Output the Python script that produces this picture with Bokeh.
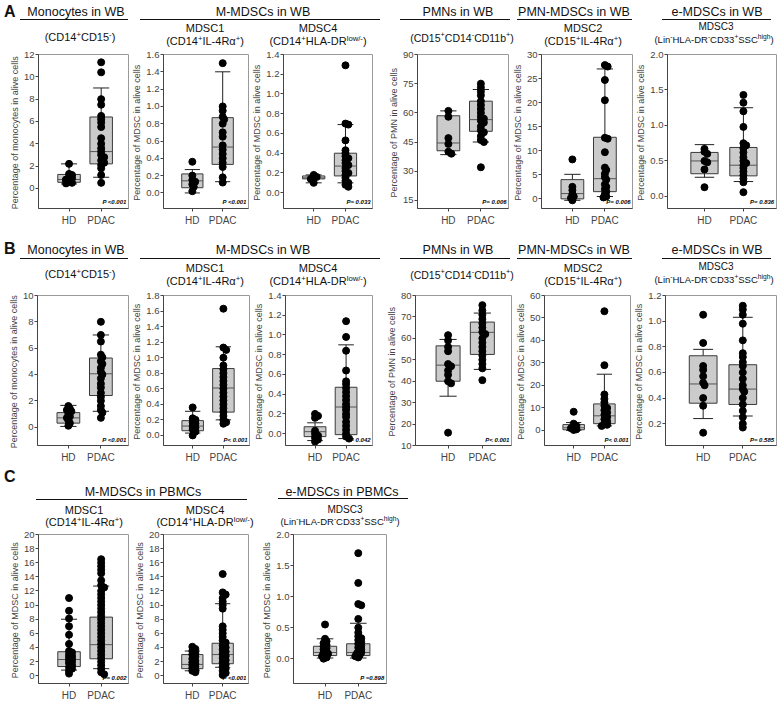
from bokeh.plotting import figure
from bokeh.layouts import row, column
from bokeh.models import Range1d, FixedTicker, Label, Div, NumeralTickFormatter
from bokeh.embed import file_html
from bokeh.resources import INLINE

groups = ["HD", "PDAC"]

# ---------------- Row A (WB, cohort 1) ----------------
a1_hd = [2.2, 1.3, 1.2, 1.0, 0.9, 0.8, 0.75, 0.6, 0.5, 0.45]
a1_pdac = [11.3, 10.4, 8.0, 7.5, 6.5, 6.2, 5.9, 5.5, 4.5, 4.0, 3.6, 3.3, 3.0, 2.8, 2.5, 2.3, 2.1, 1.8, 1.2, 0.5]
a1_box = [[0.4, 0.55, 0.8, 1.25, 2.2], [1.0, 2.2, 3.3, 6.4, 9.0]]

a2_hd = [0.36, 0.2, 0.15, 0.13, 0.1, 0.07, 0.02]
a2_pdac = [1.5, 1.0, 0.95, 0.88, 0.85, 0.8, 0.7, 0.65, 0.55, 0.5, 0.45, 0.4, 0.35, 0.3, 0.18, 0.12]
a2_box = [[0.0, 0.06, 0.14, 0.22, 0.27], [0.13, 0.33, 0.53, 0.87, 1.4]]

a3_hd = [0.18, 0.16, 0.15, 0.14, 0.1]
a3_pdac = [1.29, 0.7, 0.69, 0.53, 0.43, 0.4, 0.37, 0.35, 0.33, 0.3, 0.28, 0.25, 0.22, 0.2, 0.18, 0.15, 0.12, 0.1, 0.08, 0.06]
a3_box = [[0.1, 0.14, 0.15, 0.17, 0.18], [0.1, 0.17, 0.27, 0.4, 0.69]]

a4_hd = [61, 58, 47, 44, 40, 39]
a4_pdac = [75, 73, 71, 69, 66, 64, 62, 60, 58, 57, 56, 55, 53, 51, 50, 48, 46, 45, 32]
a4_box = [[38.5, 40.5, 44.5, 58.5, 61], [45, 50.5, 56.5, 66, 72]]

a5_hd = [8.2, 2.5, 1.8, 1.0, 0.5, 0.2, -0.3]
a5_pdac = [27.8, 27.5, 24.7, 20.5, 12.7, 12.5, 9.7, 6.5, 6.0, 5.2, 4.5, 4.0, 3.0, 2.5, 2.0, 1.5, 1.0, 0.5, 0.3]
a5_box = [[-0.3, 0.0, 1.1, 4.0, 5.1], [0.5, 1.5, 4.2, 12.8, 27.0]]

a6_hd = [0.67, 0.63, 0.6, 0.5, 0.48, 0.38, 0.13]
a6_pdac = [1.43, 1.32, 1.2, 0.98, 0.75, 0.72, 0.68, 0.62, 0.55, 0.5, 0.47, 0.44, 0.4, 0.35, 0.3, 0.25, 0.2, 0.06]
a6_box = [[0.27, 0.32, 0.5, 0.62, 0.73], [0.21, 0.29, 0.44, 0.69, 1.25]]

# ---------------- Row B (WB, cohort 2) ----------------
b1_hd = [1.6, 1.4, 1.3, 1.2, 1.0, 0.8, 0.7, 0.5, 0.3, 0.1]
b1_pdac = [8.0, 7.0, 6.5, 5.5, 5.3, 5.0, 4.8, 4.5, 4.2, 4.0, 3.7, 3.3, 3.0, 2.6, 2.3, 2.0, 1.6, 1.3, 1.1, 0.7]
b1_box = [[0.05, 0.3, 0.7, 1.1, 1.65], [1.2, 2.4, 4.05, 5.25, 7.0]]

b2_hd = [0.36, 0.22, 0.2, 0.17, 0.15, 0.12, 0.1, 0.08, 0.05, 0.0]
b2_pdac = [1.63, 1.13, 1.1, 1.0, 0.9, 0.85, 0.8, 0.75, 0.7, 0.65, 0.6, 0.55, 0.5, 0.45, 0.4, 0.35, 0.3, 0.25, 0.2, 0.17, 0.15]
b2_box = [[0.03, 0.06, 0.12, 0.19, 0.31], [0.2, 0.3, 0.61, 0.86, 1.14]]

b3_hd = [0.2, 0.18, 0.16, 0.03, 0.0, -0.02, -0.04, -0.06, -0.08]
b3_pdac = [1.14, 0.98, 0.84, 0.64, 0.53, 0.5, 0.46, 0.42, 0.38, 0.34, 0.3, 0.27, 0.24, 0.2, 0.17, 0.12, 0.08, 0.04, 0.0, -0.03, -0.05]
b3_box = [[-0.07, -0.03, 0.02, 0.07, 0.11], [-0.05, -0.01, 0.27, 0.47, 0.9]]

b4_hd = [61.5, 59, 56, 54, 48, 47, 45, 43, 40, 39, 16]
b4_pdac = [75.5, 73, 71, 69, 67, 65, 63, 62, 60, 58, 56, 54, 52, 50, 48, 46, 40.5]
b4_box = [[33, 40, 47.5, 56.5, 59.5], [45.5, 52.5, 62.8, 67.6, 71.8]]

b5_hd = [8.3, 3.0, 2.0, 1.5, 1.0, 0.5, 0.2]
b5_pdac = [53, 29, 16, 14, 12.5, 11, 10, 9, 8, 7, 6, 5, 4, 3, 2.5, 2]
b5_box = [[0.0, 0.3, 1.2, 2.6, 3.5], [2.0, 3.0, 6.5, 11.8, 25.0]]

b6_hd = [1.05, 0.83, 0.65, 0.62, 0.57, 0.52, 0.5, 0.4, 0.34, 0.13]
b6_pdac = [1.12, 1.09, 1.05, 0.98, 0.85, 0.75, 0.72, 0.68, 0.65, 0.6, 0.55, 0.5, 0.47, 0.45, 0.4, 0.35, 0.3, 0.25, 0.2, 0.17]
b6_box = [[0.24, 0.36, 0.51, 0.73, 0.78], [0.26, 0.35, 0.47, 0.66, 1.03]]

# ---------------- Row C (PBMCs) ----------------
c1_hd = [11, 9.2, 8.1, 7.0, 5.8, 4.5, 3.5, 3.3, 3.0, 2.8, 2.6, 2.4, 2.2, 2.0, 1.8, 1.5, 1.2, 1.0, 0.7, 0.3]
c1_pdac = [16.5, 16.0, 15.5, 15.0, 14.5, 13.5, 12.8, 12.5, 12.0, 11.5, 11.0, 10.5, 10.0, 9.5, 9.0, 8.5,
           8.0, 7.5, 7.0, 6.5, 6.0, 5.5, 5.0, 4.5, 4.0, 3.5, 3.0, 2.5, 2.0, 1.5, 1.0, 0.5, 0.2]
c1_box = [[0.8, 1.3, 2.3, 3.4, 8.0], [1.0, 2.4, 4.4, 8.3, 12.7]]

c2_hd = [4.1, 3.8, 3.5, 3.2, 3.0, 2.7, 2.4, 2.1, 1.9, 1.7, 1.5, 1.3, 1.1, 0.9, 0.7, 0.5]
c2_pdac = [14.4, 11.8, 11.5, 11.0, 10.5, 10.0, 9.5, 7.0, 6.5, 6.0, 5.5, 5.0, 4.7, 4.3, 4.0, 3.7, 3.4,
           3.1, 2.8, 2.5, 2.2, 1.9, 1.6, 1.3, 1.0, 0.7, 0.4, 0.1]
c2_box = [[0.7, 1.0, 1.6, 3.0, 3.5], [1.2, 1.7, 3.0, 4.6, 10.2]]

c3_hd = [0.55, 0.32, 0.28, 0.25, 0.22, 0.2, 0.17, 0.15, 0.12, 0.1, 0.08, 0.06, 0.04, 0.02, 0.0]
c3_pdac = [1.7, 1.22, 0.88, 0.86, 0.64, 0.5, 0.42, 0.36, 0.33, 0.3, 0.27, 0.24, 0.21, 0.18, 0.15,
           0.12, 0.1, 0.08, 0.06, 0.04, 0.02]
c3_box = [[0.01, 0.05, 0.1, 0.2, 0.32], [0.01, 0.05, 0.1, 0.24, 0.57]]

p_values_a = ["P <0.001", "P <0.001", "P= 0.033", "P= 0.006", "P= 0.006", "P= 0.836"]
p_values_b = ["P <0.001", "P< 0.001", "P= 0.042", "P< 0.001", "P< 0.001", "P= 0.585"]
p_values_c = ["P= 0.002", "P <0.001", "P =0.898"]

lab_mono = "Percentage of monocytes  in alive cells"
lab_mdsc = "Percentage of MDSC  in alive cells"
lab_pmn = "Percentage of PMN  in alive cells"

FONT = "Liberation Sans"


def ticks(lo, hi, step):
    out = []
    v = lo
    while v <= hi + 1e-9:
        out.append(round(v, 4))
        v += step
    return out


# panel geometry (frame rectangles in page pixels) + axis setup
rowA = dict(top=48, bottom=228, ftop=54, fbot=208, panels=[
    dict(fx=(38, 128), yr=(-1.8, 12), tk=ticks(0, 12, 2), fmt="0", lab=lab_mono, hd=a1_hd, pd=a1_pdac, box=a1_box, p=p_values_a[0]),
    dict(fx=(159, 248), yr=(-0.18, 1.6), tk=ticks(0, 1.6, 0.2), fmt="0.0", lab=lab_mdsc, hd=a2_hd, pd=a2_pdac, box=a2_box, p=p_values_a[1]),
    dict(fx=(280, 372), yr=(-0.16, 1.4), tk=ticks(0, 1.4, 0.2), fmt="0.0", lab=lab_mdsc, hd=a3_hd, pd=a3_pdac, box=a3_box, p=p_values_a[2]),
    dict(fx=(417, 508), yr=(10.8, 90), tk=ticks(15, 90, 15), fmt="0", lab=lab_pmn, hd=a4_hd, pd=a4_pdac, box=a4_box, p=p_values_a[3]),
    dict(fx=(535, 632), yr=(-2.0, 30), tk=ticks(0, 30, 5), fmt="0", lab=lab_mdsc, hd=a5_hd, pd=a5_pdac, box=a5_box, p=p_values_a[4]),
    dict(fx=(658, 776), yr=(-0.17, 2.0), tk=ticks(0, 2.0, 0.5), fmt="0.0", lab=lab_mdsc, hd=a6_hd, pd=a6_pdac, box=a6_box, p=p_values_a[5]),
])
rowB = dict(top=289, bottom=468, ftop=295, fbot=445, panels=[
    dict(fx=(37, 128), yr=(-1.4, 10), tk=ticks(0, 10, 2), fmt="0", lab=lab_mono, hd=b1_hd, pd=b1_pdac, box=b1_box, p=p_values_b[0]),
    dict(fx=(157, 249), yr=(-0.13, 1.8), tk=ticks(0, 1.8, 0.2), fmt="0.0", lab=lab_mdsc, hd=b2_hd, pd=b2_pdac, box=b2_box, p=p_values_b[1]),
    dict(fx=(285, 372), yr=(-0.12, 1.4), tk=ticks(0, 1.4, 0.2), fmt="0.0", lab=lab_mdsc, hd=b3_hd, pd=b3_pdac, box=b3_box, p=p_values_b[2]),
    dict(fx=(415, 511), yr=(10, 80), tk=ticks(10, 80, 10), fmt="0", lab=lab_pmn, hd=b4_hd, pd=b4_pdac, box=b4_box, p=p_values_b[3]),
    dict(fx=(536, 630), yr=(-6.7, 60), tk=ticks(0, 60, 10), fmt="0", lab=lab_mdsc, hd=b5_hd, pd=b5_pdac, box=b5_box, p=p_values_b[4]),
    dict(fx=(658, 776), yr=(0.03, 1.2), tk=ticks(0.2, 1.2, 0.2), fmt="0.0", lab=lab_mdsc, hd=b6_hd, pd=b6_pdac, box=b6_box, p=p_values_b[5]),
])
rowC = dict(top=529, bottom=703, ftop=534, fbot=688, panels=[
    dict(fx=(38, 128), yr=(-1.1, 20), tk=ticks(0, 20, 2), fmt="0", lab=lab_mdsc, hd=c1_hd, pd=c1_pdac, box=c1_box, p=p_values_c[0]),
    dict(fx=(163, 248), yr=(-1.1, 20), tk=ticks(0, 20, 2), fmt="0", lab=lab_mdsc, hd=c2_hd, pd=c2_pdac, box=c2_box, p=p_values_c[1]),
    dict(fx=(293, 386), yr=(-0.4, 2.0), tk=ticks(0, 2.0, 0.5), fmt="0.0", lab=lab_mdsc, hd=c3_hd, pd=c3_pdac, box=c3_box, p=p_values_c[2]),
])

XR = (0.05, 2.85)
BOX_W = 0.7
CAP_W = 0.5
DOT = 7


def swarm(values, center, px_x, px_y):
    """Deterministic slight dodge of near-coincident dots (layout only)."""
    placed = []
    order = sorted(range(len(values)), key=lambda i: -values[i])
    res = [center] * len(values)
    for i in order:
        v = values[i]
        dx_px = 0.0
        for k in [0, 1, -1, 2, -2]:
            dx_px = k * 1.5
            ok = True
            for (pxv, pyv) in placed:
                if ((dx_px - pxv) ** 2 + ((v - pyv) * px_y) ** 2) ** 0.5 < DOT * 0.4:
                    ok = False
                    break
            if ok:
                break
        placed.append((dx_px, v))
        res[i] = center + dx_px / px_x
    return res


def make_panel(spec, fig_l, fig_r, fig_t, fig_b, ftop, fbot):
    fl, fr = spec["fx"]
    ylo, yhi = spec["yr"]
    p = figure(width=fig_r - fig_l, height=fig_b - fig_t,
               x_range=Range1d(*XR), y_range=Range1d(ylo, yhi),
               output_backend="svg", toolbar_location=None,
               min_border_left=fl - fig_l, min_border_right=fig_r - fr,
               min_border_top=ftop - fig_t, min_border_bottom=fig_b - fbot)
    p.grid.visible = False
    p.outline_line_color = "#9a9a9a"
    p.outline_line_width = 1
    p.background_fill_color = "white"
    p.border_fill_color = "white"

    ya = p.yaxis[0]
    ya.ticker = FixedTicker(ticks=spec["tk"])
    ya.formatter = NumeralTickFormatter(format=spec["fmt"])
    ya.axis_label = spec["lab"]
    ya.axis_label_text_font = FONT
    ya.axis_label_text_font_size = "9px"
    ya.axis_label_text_font_style = "normal"
    ya.axis_label_standoff = 1
    ya.major_label_text_font = FONT
    ya.major_label_text_font_size = "9.5px"
    ya.major_label_standoff = 1
    ya.major_tick_out = 3
    ya.major_tick_in = 0
    ya.minor_tick_line_color = None
    ya.axis_line_color = "#444444"
    ya.major_tick_line_color = "#444444"

    xa = p.xaxis[0]
    xa.ticker = FixedTicker(ticks=[1, 2])
    xa.major_label_overrides = {1: groups[0], 2: groups[1]}
    xa.major_label_text_font = FONT
    xa.major_label_text_font_size = "10px"
    xa.major_label_standoff = 3
    xa.major_tick_out = 3
    xa.major_tick_in = 0
    xa.minor_tick_line_color = None
    xa.axis_line_color = "#444444"
    xa.major_tick_line_color = "#444444"

    xs = [1, 2]
    boxes = spec["box"]
    lo = [b[0] for b in boxes]
    q1 = [b[1] for b in boxes]
    med = [b[2] for b in boxes]
    q3 = [b[3] for b in boxes]
    hi = [b[4] for b in boxes]
    # whiskers
    p.segment(x0=xs, y0=q3, x1=xs, y1=hi, line_color="#222222", line_width=1)
    p.segment(x0=xs, y0=q1, x1=xs, y1=lo, line_color="#222222", line_width=1)
    p.segment(x0=[x - CAP_W / 2 for x in xs], y0=hi, x1=[x + CAP_W / 2 for x in xs], y1=hi,
              line_color="#222222", line_width=1)
    p.segment(x0=[x - CAP_W / 2 for x in xs], y0=lo, x1=[x + CAP_W / 2 for x in xs], y1=lo,
              line_color="#222222", line_width=1)
    # boxes
    p.quad(left=[x - BOX_W / 2 for x in xs], right=[x + BOX_W / 2 for x in xs],
           bottom=q1, top=q3, fill_color="#cbcbcb", line_color="#3a3a3a", line_width=1)
    p.segment(x0=[x - BOX_W / 2 for x in xs], y0=med, x1=[x + BOX_W / 2 for x in xs], y1=med,
              line_color="#555555", line_width=1)
    # points (tiny dodge only where they would coincide)
    px_x = (fr - fl) / (XR[1] - XR[0])
    px_y = (fbot - ftop) / (yhi - ylo)
    p.scatter(x=swarm(spec["hd"], 1, px_x, px_y), y=spec["hd"], size=DOT, fill_color="black", line_color="black")
    p.scatter(x=swarm(spec["pd"], 2, px_x, px_y), y=spec["pd"], size=DOT, fill_color="black", line_color="black")

    p.add_layout(Label(x=XR[1] - 0.06, y=ylo + 0.02 * (yhi - ylo), text=spec["p"],
                       text_align="right", text_baseline="bottom",
                       text_font=FONT, text_font_size="6px", text_font_style="bold italic",
                       text_color="black"))
    return p


def build_row(rdef):
    t, b = rdef["top"], rdef["bottom"]
    figs = []
    left = 0
    n = len(rdef["panels"])
    for i, spec in enumerate(rdef["panels"]):
        right = spec["fx"][1] + 1
        if i == n - 1:
            right = min(right, 778)
        figs.append(make_panel(spec, left, right, t, b, rdef["ftop"], rdef["fbot"]))
        left = right
    return row(figs, spacing=0)


def sup(s):
    return "<sup style='font-size:70%'>" + s + "</sup>"


def header_div(items, t, b):
    h = b - t
    html = ["<div style='position:relative;width:778px;height:%dpx;font-family:\"%s\",Arial,sans-serif;color:#111'>" % (h, FONT)]
    for it in items:
        kind = it[0]
        if kind == "text":
            _, cx, cy, size, weight, txt = it
            html.append("<div style='position:absolute;left:%.1fpx;top:%.1fpx;transform:translate(-50%%,-50%%);"
                        "white-space:nowrap;font-size:%spx;font-weight:%s;line-height:1'>%s</div>"
                        % (cx, cy - t, size, weight, txt))
        elif kind == "letter":
            _, lx, cy, txt = it
            html.append("<div style='position:absolute;left:%.1fpx;top:%.1fpx;transform:translateY(-50%%);"
                        "font-size:16px;font-weight:bold;line-height:1'>%s</div>" % (lx, cy - t, txt))
        elif kind == "line":
            _, x0, x1, ly = it
            html.append("<div style='position:absolute;left:%.1fpx;top:%.1fpx;width:%.1fpx;height:1.3px;background:#111'></div>"
                        % (x0, ly - t, x1 - x0))
    html.append("</div>")
    return Div(text="".join(html), width=778, height=h, margin=0)


cd14_cd15 = "(CD14" + sup("+") + "CD15" + sup("-") + ")"
cd14_il4 = "(CD14" + sup("+") + "IL-4R&alpha;" + sup("+") + ")"
cd14_hla = "(CD14" + sup("+") + "HLA-DR" + sup("low/-") + ")"
cd15_pmn = "(CD15" + sup("+") + "CD14" + sup("-") + "CD11b" + sup("+") + ")"
cd15_il4 = "(CD15" + sup("+") + "IL-4R&alpha;" + sup("+") + ")"
lin_hla = "(Lin" + sup("-") + "HLA-DR" + sup("-") + "CD33" + sup("+") + "SSC" + sup("high") + ")"


def wb_header(letter, letter_y, title_y, line_y, s1_y, s2_y, smid_y):
    return [
        ("letter", 4, letter_y, letter),
        ("text", 76, title_y, 12.5, "normal", "Monocytes in WB"),
        ("line", 20, 128, line_y),
        ("text", 263, title_y, 12.5, "normal", "M-MDSCs in WB"),
        ("line", 140, 380, line_y),
        ("text", 458, title_y, 12.5, "normal", "PMNs in WB"),
        ("line", 400, 510, line_y),
        ("text", 574, title_y, 12.5, "normal", "PMN-MDSCs in WB"),
        ("line", 517, 632, line_y),
        ("text", 717, title_y, 12.5, "normal", "e-MDSCs in WB"),
        ("line", 662, 771, line_y),
        ("text", 80, smid_y, 11, "normal", cd14_cd15),
        ("text", 205, s1_y, 11, "normal", "MDSC1"),
        ("text", 205, s2_y, 11, "normal", cd14_il4),
        ("text", 318, s1_y, 11, "normal", "MDSC4"),
        ("text", 318, s2_y, 11, "normal", cd14_hla),
        ("text", 462, smid_y, 10.5, "normal", cd15_pmn),
        ("text", 583, s1_y, 11, "normal", "MDSC2"),
        ("text", 583, s2_y, 11, "normal", cd15_il4),
        ("text", 716, s1_y - 1, 10, "normal", "MDSC3"),
        ("text", 714, s2_y - 2, 9.5, "normal", lin_hla),
    ]


itemsA = wb_header("A", 12, 12, 19, 28, 41, 37)
itemsB = wb_header("B", 249, 250, 258, 268, 281, 274)
itemsC = [
    ("letter", 4, 477, "C"),
    ("text", 143, 492, 12.5, "normal", "M-MDSCs in PBMCs"),
    ("line", 36, 247, 499),
    ("text", 342, 492, 12.5, "normal", "e-MDSCs in PBMCs"),
    ("line", 278, 408, 498),
    ("text", 84, 510, 11, "normal", "MDSC1"),
    ("text", 84, 522, 11, "normal", cd14_il4),
    ("text", 205, 510, 11, "normal", "MDSC4"),
    ("text", 205, 522, 11, "normal", cd14_hla),
    ("text", 345, 510, 10, "normal", "MDSC3"),
    ("text", 340, 521, 9.5, "normal", lin_hla),
]

rA = build_row(rowA)
rB = build_row(rowB)
rC = build_row(rowC)
dA = header_div(itemsA, 0, rowA["top"])
dB = header_div(itemsB, rowA["bottom"], rowB["top"])
dC = header_div(itemsC, rowB["bottom"], rowC["top"])

layout = column(dA, rA, dB, rB, dC, rC, spacing=0)
open("out.html", "w").write(file_html(layout, INLINE))
